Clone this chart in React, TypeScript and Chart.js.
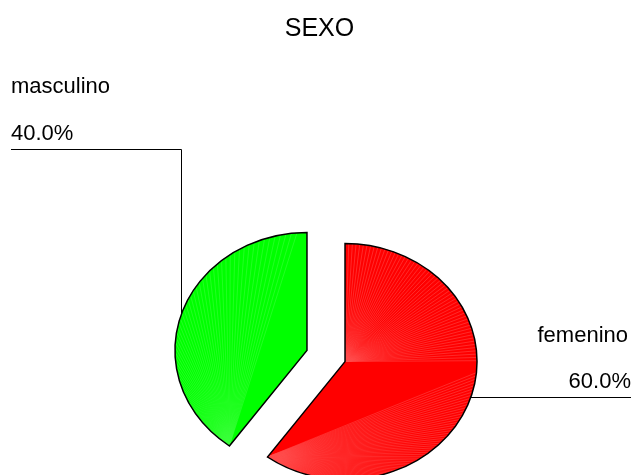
import React, { useEffect, useRef } from "react";
import { Chart, registerables } from "chart.js";

Chart.register(...registerables);

const categories = ["femenino", "masculino"];
const values = [60, 40];
const percentLabels = ["60.0%", "40.0%"];
const sliceColors = ["#ff0000", "#00ff00"];
const stripeColors = ["rgba(255,80,80,0.8)", "rgba(60,255,60,0.85)"];
const chartTitle = "SEXO";

const FONT = "'Liberation Sans', Arial, sans-serif";
const SQUASH = 0.894;
const EXPLODE = 20;

function explodeShift(p: any) {
  const mid = (p.startAngle + p.endAngle) / 2;
  return { dx: Math.cos(mid) * EXPLODE, dy: Math.sin(mid) * EXPLODE };
}

function arcGeometry(el: any) {
  const p = el.getProps(["x", "y", "startAngle", "endAngle", "outerRadius"], true);
  const { dx, dy } = explodeShift(p);
  return {
    cx: p.x + dx,
    cy: p.y + dy,
    r: p.outerRadius,
    start: p.startAngle,
    end: p.endAngle,
  };
}

function slicePath(ctx: CanvasRenderingContext2D, g: any) {
  ctx.beginPath();
  ctx.moveTo(g.cx, g.cy);
  ctx.arc(g.cx, g.cy, g.r, g.start, g.end);
  ctx.closePath();
}

function fan(ctx: CanvasRenderingContext2D, g: any, ox: number, oy: number, a0: number, a1: number, step: number) {
  for (let a = a0; a <= a1 + 1e-6; a += step) {
    ctx.beginPath();
    ctx.moveTo(ox, oy);
    ctx.lineTo(g.cx + Math.cos(a) * g.r, g.cy + Math.sin(a) * g.r);
    ctx.stroke();
  }
}

const ellipsePlugin = {
  id: "ellipsePie",
  afterLayout(chart: any) {
    // the title is centred on the page rather than on the pie
    chart.titleBlock.left -= 13;
  },
  beforeDatasetsDraw(chart: any) {
    const { ctx, chartArea } = chart;
    const cy = (chartArea.top + chartArea.bottom) / 2;

    // each slice is pulled out along its own middle angle
    chart.getDatasetMeta(0).data.forEach((el: any) => {
      if (el.__exploded) return;
      el.__exploded = true;
      const draw = el.draw.bind(el);
      el.draw = (c: CanvasRenderingContext2D, area: any) => {
        const { dx, dy } = explodeShift(el.getProps(["startAngle", "endAngle"], true));
        c.save();
        c.translate(dx, dy);
        draw(c, area);
        c.restore();
      };
    });

    // leader lines run underneath the slices
    ctx.save();
    ctx.strokeStyle = "#000";
    ctx.lineWidth = 1;
    ctx.beginPath();
    ctx.moveTo(11, 149.5);
    ctx.lineTo(181.5, 149.5);
    ctx.lineTo(181.5, 330);
    ctx.moveTo(631, 397.5);
    ctx.lineTo(450, 397.5);
    ctx.stroke();
    ctx.restore();

    ctx.save();
    ctx.translate(0, cy);
    ctx.scale(1, SQUASH);
    ctx.translate(0, -cy);
  },
  afterDatasetsDraw(chart: any) {
    const { ctx } = chart;
    const arcs = chart.getDatasetMeta(0).data;
    arcs.forEach((el: any, i: number) => {
      const g = arcGeometry(el);
      ctx.save();
      slicePath(ctx, g);
      ctx.clip();
      ctx.strokeStyle = stripeColors[i];
      ctx.lineWidth = 0.7;
      const tipStart = { x: g.cx + Math.cos(g.start) * g.r, y: g.cy + Math.sin(g.start) * g.r };
      const tipEnd = { x: g.cx + Math.cos(g.end) * g.r, y: g.cy + Math.sin(g.end) * g.r };
      const deg = Math.PI / 180;
      if (i === 0) {
        fan(ctx, g, g.cx, g.cy, g.start, g.start + Math.PI / 2, 1.6 * deg);
        fan(ctx, g, tipEnd.x, tipEnd.y, g.start + Math.PI * 0.53, g.end, 1.6 * deg);
      } else {
        fan(ctx, g, tipStart.x, tipStart.y, g.start + 0.05, g.end - 0.04, 2.4 * deg);
      }
      ctx.restore();
      ctx.save();
      slicePath(ctx, g);
      ctx.strokeStyle = "#000";
      ctx.lineWidth = 1.5;
      ctx.stroke();
      ctx.restore();
    });
    ctx.restore();

    // slice labels
    ctx.save();
    ctx.fillStyle = "#000";
    ctx.font = `22px ${FONT}`;
    ctx.textBaseline = "alphabetic";
    ctx.textAlign = "left";
    ctx.fillText(categories[1], 11, 93);
    ctx.fillText(percentLabels[1], 11, 140);
    ctx.textAlign = "right";
    ctx.fillText(categories[0], 628, 342);
    ctx.fillText(percentLabels[0], 631, 388);
    ctx.restore();
  },
};

export default function App() {
  const ref = useRef<HTMLCanvasElement>(null);
  useEffect(() => {
    document.body.style.margin = "0";
    const chart = new Chart(ref.current!, {
      type: "pie",
      data: {
        labels: categories,
        datasets: [
          {
            data: values,
            backgroundColor: sliceColors,
            borderColor: "#000",
            borderWidth: 0,
            offset: 0,
          },
        ],
      },
      options: {
        responsive: false,
        animation: false,
        radius: 132,
        layout: { padding: { left: 21 } },
        plugins: {
          legend: { display: false },
          tooltip: { enabled: false },
          title: {
            display: true,
            text: chartTitle,
            color: "#000",
            font: { family: FONT, size: 25, weight: "normal", lineHeight: 1.2 },
            padding: { top: 14, bottom: 193 },
          },
        },
      } as any,
      plugins: [ellipsePlugin],
    });
    return () => chart.destroy();
  }, []);
  return (
    <div style={{ width: 631, height: 475, overflow: "hidden" }}>
      <canvas ref={ref} width={631} height={475} style={{ display: "block" }} />
    </div>
  );
}
